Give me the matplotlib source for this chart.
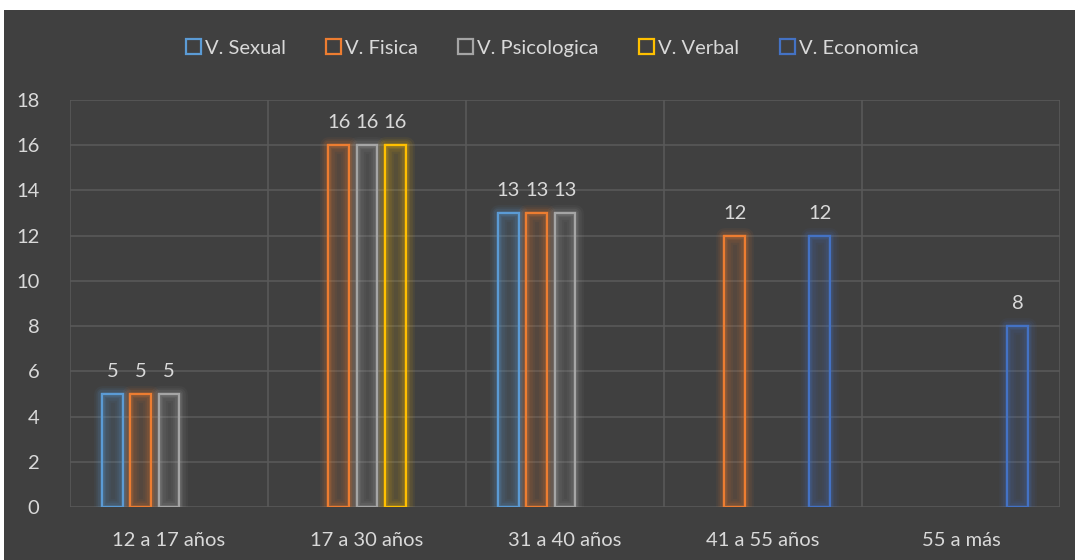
import matplotlib.pyplot as plt
import numpy as np
from matplotlib.patches import Rectangle

# age groups and counts per type of violence (0 = no bar)
categorias = ["12 a 17 años", "17 a 30 años", "31 a 40 años", "41 a 55 años", "55 a más"]
series = ["V. Sexual", "V. Fisica", "V. Psicologica", "V. Verbal", "V. Economica"]
sexual = [5, 0, 13, 0, 0]
fisica = [5, 16, 13, 12, 0]
psicologica = [5, 16, 13, 0, 0]
verbal = [0, 16, 0, 0, 0]
economica = [0, 0, 0, 12, 8]
valores = [sexual, fisica, psicologica, verbal, economica]
colores = ["#5B9BD5", "#ED7D31", "#A5A5A5", "#FFC000", "#4472C4"]

plt.rcParams['font.family'] = ['Lato', 'DejaVu Sans']
txt = "#D9D9D9"
bg = "#404040"
fs = 14.5

fig = plt.figure(figsize=(10.75, 5.6), dpi=100)
fig.patch.set_facecolor("white")
# dark chart area
fondo = Rectangle((4 / 1075, 0), 1, 1 - 10 / 560, transform=fig.transFigure,
                  facecolor=bg, edgecolor="none", zorder=-5)
fig.add_artist(fondo)

ax = fig.add_axes([70 / 1075, 1 - 507 / 560, 990 / 1075, 407 / 560])
ax.set_facecolor(bg)
ax.set_zorder(2)

x = np.arange(len(categorias))
slot = 1 / 7
ancho = slot * 0.74

for i, (nombre, vals, c) in enumerate(zip(series, valores, colores)):
    pos = x + (i - 2) * slot
    v = np.array(vals, dtype=float)
    m = v > 0
    # soft glow around each bar
    for lw, a in [(12, 0.06), (9, 0.08), (6, 0.1), (3.5, 0.14)]:
        ax.bar(pos[m], v[m], ancho, facecolor="none", edgecolor=c, alpha=a,
               linewidth=lw, joinstyle="round", zorder=2)
    ax.bar(pos[m], v[m], ancho, facecolor=c, alpha=0.12, edgecolor="none", zorder=3)
    ax.bar(pos[m], v[m], ancho, facecolor="none", edgecolor=c, linewidth=1.6, zorder=4)
    for p, val in zip(pos[m], v[m]):
        ax.annotate(f"{int(val)}", (p, val), xytext=(0, 10), textcoords="offset points",
                    ha="center", va="bottom", color=txt, fontsize=fs)
    # legend handle
    ax.bar([0], [0], 0, facecolor="none", edgecolor=c, linewidth=1.6, label=nombre)

ax.set_xlim(-0.5, len(categorias) - 0.5)
ax.set_ylim(0, 18)
ax.set_yticks(range(0, 19, 2))
ax.set_xticks(x)
ax.set_xticklabels(categorias)
ax.tick_params(colors=txt, labelsize=fs, length=0)
ax.tick_params(axis="x", pad=18)
ax.tick_params(axis="y", pad=22)

ax.grid(axis="y", color="#595959", linewidth=1.2, zorder=0)
ax.set_axisbelow(True)
for b in np.arange(-0.5, len(categorias), 1):
    ax.axvline(b, color="#595959", linewidth=1.2, zorder=1)
for s in ax.spines.values():
    s.set_visible(False)

leg = fig.legend(loc="center", bbox_to_anchor=(552 / 1075, 1 - 48 / 560), ncol=5, frameon=False,
                 fontsize=fs, handlelength=0.75, handleheight=0.75, handletextpad=0.2,
                 columnspacing=2.0)
for t in leg.get_texts():
    t.set_color(txt)

fig.savefig("out.png", dpi=100, facecolor=fig.get_facecolor())
